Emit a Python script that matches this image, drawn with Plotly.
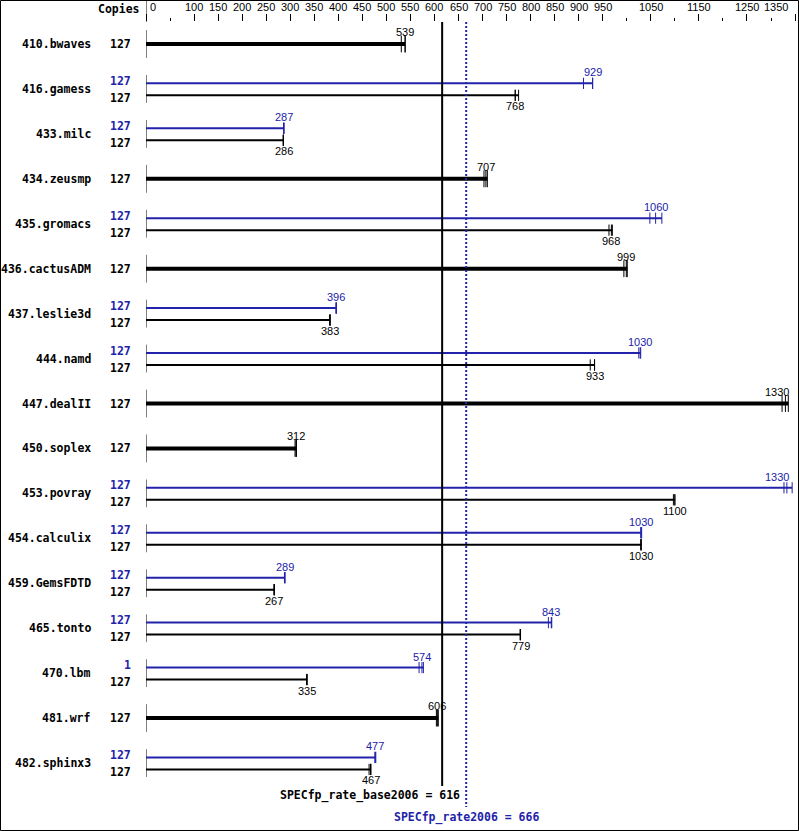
import plotly.graph_objects as go

benchmarks = ["410.bwaves", "416.gamess", "433.milc", "434.zeusmp", "435.gromacs",
              "436.cactusADM", "437.leslie3d", "444.namd", "447.dealII", "450.soplex",
              "453.povray", "454.calculix", "459.GemsFDTD", "465.tonto", "470.lbm",
              "481.wrf", "482.sphinx3"]
base_copies = [127, 127, 127, 127, 127, 127, 127, 127, 127, 127, 127, 127, 127, 127, 127, 127, 127]
peak_copies = [None, 127, 127, None, 127, None, 127, 127, None, None, 127, 127, 127, 127, 1, None, 127]

base_median = [539, 768, 286, 707, 968, 999, 383, 933, 1330, 312, 1100, 1030, 267, 779, 335, 606, 467]
base_min = [531, 768, 285, 703, 963, 994, 382, 924, 1323, 310, 1097, 1029, 266, 778, 334, 604, 464]
base_max = [539, 775, 286, 710, 970, 1001, 383, 933, 1336, 313, 1100, 1030, 267, 779, 335, 608, 468]

peak_median = [None, 929, 287, None, 1060, None, 396, 1028, None, None, 1333, 1030, 289, 843, 574, None, 477]
peak_min = [None, 910, 286, None, 1048, None, 395, 1025, None, None, 1327, 1029, 288, 837, 568, None, 476]
peak_max = [None, 929, 287, None, 1073, None, 396, 1029, None, None, 1344, 1031, 289, 844, 577, None, 478]

base_score = 616
peak_score = 666
base_score_label = "SPECfp_rate_base2006 = 616"
peak_score_label = "SPECfp_rate2006 = 666"

tick_major = [0, 100, 150, 200, 250, 300, 350, 400, 450, 500, 550, 600, 650, 700, 750,
              800, 850, 900, 950, 1050, 1150, 1250, 1350]
tick_minor = [50, 1000, 1100, 1200, 1300]

# ---------- layout constants ----------
W, H = 799, 831
ML, MR, MT, MB = 146, 3, 22, 21
PW, PH = W - ML - MR, H - MT - MB
XMAX = 1352
ROW_PX = 44.94
Y_TOP = (MT - 44) / ROW_PX
Y_BOT = (H - MB - 44) / ROW_PX
PEAK_OFF = -5.6 / ROW_PX
BASE_OFF = 6.4 / ROW_PX

BLUE = "#2222aa"
BLACK = "#000000"
MONO = "DejaVu Sans Mono"
SANS = "Liberation Sans"


def px_x(v):
    return ML + v * PW / XMAX


def fmt(v):
    if v >= 1000:
        return str(int(round(v / 10.0)) * 10)
    return str(int(round(v)))


fig = go.Figure()

single_x, single_y = [], []
base_x, base_y = [], []
peak_x, peak_y = [], []
tick_s_x, tick_s_y = [], []
tick_b_x, tick_b_y = [], []
tick_p_x, tick_p_y = [], []
axis_x, axis_y = [], []
annotations = []

for i, name in enumerate(benchmarks):
    r = i
    axis_x += [0, 0, None]
    axis_y += [r - 0.31, r + 0.31, None]
    annotations.append(dict(x=(93 - ML) / PW, y=r, xref="paper", yref="y", text=name,
                            xanchor="right", yanchor="middle", showarrow=False,
                            font=dict(family=MONO, size=11.5, color=BLACK, weight="bold")))
    single = peak_median[i] is None
    groups = []
    if single:
        single_x += [0, base_max[i], None]
        single_y += [r, r, None]
        for v in (base_min[i], base_median[i], base_max[i]):
            tick_s_x.append(v)
            tick_s_y.append(r)
        groups.append((r, base_median[i], base_copies[i], BLACK, 12, 0))
    else:
        pr = r + PEAK_OFF
        br = r + BASE_OFF
        peak_x += [0, peak_max[i], None]
        peak_y += [pr, pr, None]
        base_x += [0, base_max[i], None]
        base_y += [br, br, None]
        for v in (peak_min[i], peak_median[i], peak_max[i]):
            tick_p_x.append(v)
            tick_p_y.append(pr)
        for v in (base_min[i], base_median[i], base_max[i]):
            tick_b_x.append(v)
            tick_b_y.append(br)
        groups.append((pr, peak_median[i], peak_copies[i], BLUE, 11, -2.4))
        groups.append((br, base_median[i], base_copies[i], BLACK, -11, 2.6))
    for (yy, med, cop, col, shift, cshift) in groups:
        annotations.append(dict(x=(133 - ML) / PW, y=yy, xref="paper", yref="y", text=str(cop),
                                xanchor="right", yanchor="middle", showarrow=False,
                                yshift=-cshift,
                                font=dict(family=MONO, size=11.5, color=col, weight="bold")))
        cx = px_x(med)
        lab = fmt(med)
        if cx + 12 > 792:
            annotations.append(dict(x=med, y=yy, xref="x", yref="y", text=lab,
                                    xanchor="right", yanchor="middle", showarrow=False,
                                    xshift=791 - cx, yshift=shift,
                                    font=dict(family=SANS, size=11, color=col)))
        else:
            annotations.append(dict(x=med, y=yy, xref="x", yref="y", text=lab,
                                    xanchor="center", yanchor="middle", showarrow=False,
                                    yshift=shift,
                                    font=dict(family=SANS, size=11, color=col)))

fig.add_trace(go.Scatter(x=axis_x, y=axis_y, mode="lines", line=dict(color=BLACK, width=1),
                         hoverinfo="skip", showlegend=False))
fig.add_trace(go.Scatter(x=single_x, y=single_y, mode="lines", line=dict(color=BLACK, width=4),
                         showlegend=False))
fig.add_trace(go.Scatter(x=base_x, y=base_y, mode="lines", line=dict(color=BLACK, width=2),
                         showlegend=False))
fig.add_trace(go.Scatter(x=peak_x, y=peak_y, mode="lines", line=dict(color=BLUE, width=2),
                         showlegend=False))
fig.add_trace(go.Scatter(x=tick_s_x, y=tick_s_y, mode="markers",
                         marker=dict(symbol="line-ns", size=12, line=dict(color=BLACK, width=1)),
                         showlegend=False))
fig.add_trace(go.Scatter(x=tick_b_x, y=tick_b_y, mode="markers",
                         marker=dict(symbol="line-ns", size=8, line=dict(color=BLACK, width=1)),
                         showlegend=False))
fig.add_trace(go.Scatter(x=tick_p_x, y=tick_p_y, mode="markers",
                         marker=dict(symbol="line-ns", size=8, line=dict(color=BLUE, width=1)),
                         showlegend=False))

# tick labels as annotations
for k, t in enumerate(tick_major):
    if k == 0:
        xa, xs = "left", 2
    elif k == len(tick_major) - 1:
        xa, xs = "right", 790 - px_x(t)
    else:
        xa, xs = "center", 0
    annotations.append(dict(x=t, y=1 + (MT - 7) / PH, xref="x", yref="paper", text=str(t),
                            xanchor=xa, yanchor="middle", xshift=xs, showarrow=False,
                            font=dict(family=SANS, size=11, color=BLACK)))

annotations.append(dict(x=(142 - ML) / PW, y=1 + (MT - 9) / PH, xref="paper", yref="paper",
                        text="Copies", xanchor="right", yanchor="middle", showarrow=False,
                        font=dict(family=MONO, size=11.5, color=BLACK, weight="bold")))
annotations.append(dict(x=peak_score, y=(H - MB - 795) / PH, xref="x", yref="paper",
                        text=base_score_label, xanchor="right", yanchor="middle", xshift=-4,
                        showarrow=False,
                        font=dict(family=MONO, size=11.5, color=BLACK, weight="bold")))
annotations.append(dict(x=peak_score, y=(H - MB - 817) / PH, xref="x", yref="paper",
                        text=peak_score_label, xanchor="center", yanchor="middle",
                        showarrow=False,
                        font=dict(family=MONO, size=11.5, color=BLUE, weight="bold")))

shapes = [
    dict(type="line", xref="x", yref="paper", x0=base_score, x1=base_score,
         y0=1, y1=(H - MB - 786) / PH, line=dict(color=BLACK, width=2)),
    dict(type="line", xref="x", yref="paper", x0=peak_score, x1=peak_score,
         y0=1, y1=(H - MB - 807) / PH, line=dict(color=BLUE, width=2, dash="2px,2px")),
    dict(type="line", xref="x", yref="paper", x0=0, x1=0,
         y0=1, y1=1 + MT / PH, line=dict(color=BLACK, width=1)),
    dict(type="rect", xref="paper", yref="paper",
         x0=(0.5 - ML) / PW, x1=(W - 0.5 - ML) / PW,
         y0=(H - MB - (H - 0.5)) / PH, y1=(H - MB - 0.5) / PH,
         line=dict(color=BLACK, width=1), fillcolor="rgba(0,0,0,0)", layer="above"),
]

fig.update_layout(
    width=W, height=H,
    margin=dict(l=ML, r=MR, t=MT, b=MB, pad=0),
    paper_bgcolor="white", plot_bgcolor="white",
    showlegend=False,
    hovermode=False,
    annotations=annotations,
    shapes=shapes,
    xaxis=dict(range=[0, XMAX], side="top", showgrid=False, zeroline=False, showline=False,
               tickmode="array", tickvals=tick_major, showticklabels=False,
               ticks="outside", ticklen=7, tickwidth=1, tickcolor=BLACK,
               minor=dict(tickmode="array", tickvals=tick_minor, ticks="outside",
                          ticklen=3, tickwidth=1, tickcolor=BLACK, showgrid=False),
               fixedrange=True),
    yaxis=dict(range=[Y_BOT, Y_TOP], visible=False, fixedrange=True),
)

fig.write_html("out.html", config={"displayModeBar": False, "staticPlot": True},
               post_script="document.body.style.margin='0';document.body.style.overflow='hidden';")
